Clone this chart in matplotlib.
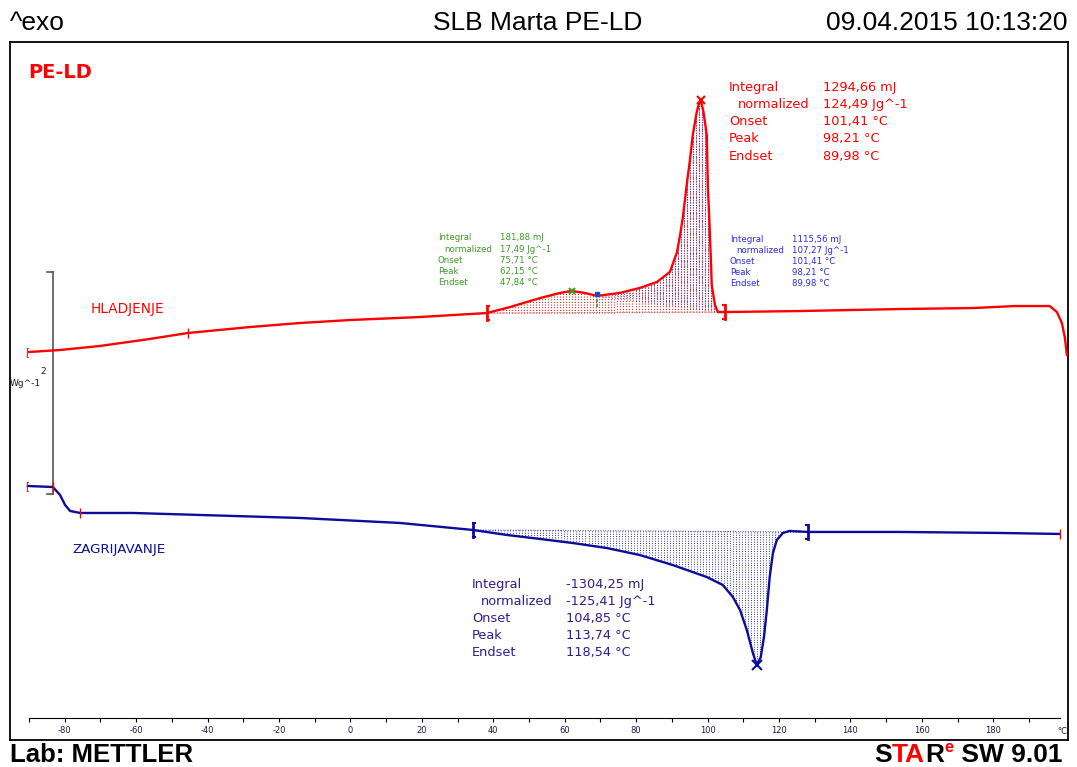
import numpy as np
import matplotlib
matplotlib.use('Agg')
import matplotlib.pyplot as plt

plt.rcParams['axes.unicode_minus'] = False

W, H = 1077, 767

# cooling run (HLADJENJE): temperature [C], heat flow [W/g] relative to start
cool_t = [-89.5, -80.8, -69.7, -55.8, -45.1, -27.7, -13.8, 0.2, 19.7, 38.5,
          45.0, 53.4, 59.0, 62.2, 65.9, 69.3, 75.7, 81.3, 86.1, 89.7,
          91.7, 92.5, 93.3, 94.4, 95.3, 96.1, 97.2, 97.8, 98.3, 99.1,
          100.0, 100.3, 100.9, 101.4, 102.3, 103.1, 105.0, 126.0, 154.0, 174.4,
          186.1, 195.9, 197.9, 199.3, 200.1, 200.7]
cool_hf = [0.0, 0.018, 0.054, 0.117, 0.171, 0.225, 0.261, 0.288, 0.315, 0.351,
           0.405, 0.486, 0.532, 0.550, 0.532, 0.505, 0.532, 0.577, 0.631, 0.721,
           0.901, 1.045, 1.207, 1.505, 1.730, 1.955, 2.162, 2.235, 2.270, 2.162,
           1.955, 1.505, 1.054, 0.604, 0.423, 0.360, 0.360, 0.369, 0.387, 0.396,
           0.414, 0.414, 0.360, 0.261, 0.135, -0.027]

# heating run (ZAGRIJAVANJE)
heat_t = [-89.8, -82.8, -80.8, -79.4, -78.0, -75.2, -60.4, -41.7, -13.7, 14.2,
          34.6, 44.1, 53.4, 62.6, 72.1, 81.3, 90.5, 100.0, 104.5, 107.3,
          109.3, 111.2, 112.9, 114.0, 115.1, 116.0, 116.8, 117.6, 118.5, 119.6,
          121.3, 123.2, 128.3, 154.0, 181.9, 198.7]
heat_hf = [0.0, -0.009, -0.081, -0.171, -0.225, -0.243, -0.243, -0.261, -0.288, -0.333,
           -0.396, -0.441, -0.477, -0.514, -0.559, -0.622, -0.712, -0.820, -0.892, -1.000,
           -1.117, -1.297, -1.505, -1.613, -1.541, -1.360, -1.117, -0.820, -0.604, -0.486,
           -0.423, -0.405, -0.414, -0.414, -0.423, -0.432]

cool_lim = [38.5, 105.0]
cool_split = 69.3
heat_lim = [34.6, 128.3]

ev_labels = ['Integral', 'normalized', 'Onset', 'Peak', 'Endset']
cool_vals = ['1294,66 mJ', '124,49 Jg^-1', '101,41 °C', '98,21 °C', '89,98 °C']
part1_vals = ['181,88 mJ', '17,49 Jg^-1', '75,71 °C', '62,15 °C', '47,84 °C']
part2_vals = ['1115,56 mJ', '107,27 Jg^-1', '101,41 °C', '98,21 °C', '89,98 °C']
heat_vals = ['-1304,25 mJ', '-125,41 Jg^-1', '104,85 °C', '113,74 °C', '118,54 °C']

RED = '#ff0000'
NAVY = '#0c0c9c'
GREEN = '#3c9a28'
PURPLE = '#2e1c92'
BLUE2 = '#2a2ae0'

PXU = 111.0            # pixels per W/g
cool_off = (740 - 352) / PXU
heat_off = (740 - 486) / PXU

cool_t = np.array(cool_t)
cool_y = np.array(cool_hf) + cool_off
heat_t = np.array(heat_t)
heat_y = np.array(heat_hf) + heat_off


def fx(x):
    return x / W


def fy(y):
    return 1 - y / H


fig = plt.figure(figsize=(W / 100, H / 100), dpi=100)

ax = fig.add_axes([fx(10), fy(740), 1058 / W, 698 / H])
ax.set_xlim(-94.8, 201.0)
ax.set_ylim(0, 698 / PXU)
ax.set_xticks([])
ax.set_yticks([])
for s in ax.spines.values():
    s.set_linewidth(1.3)

# temperature axis
ax2 = fig.add_axes([fx(29), fy(718), (1060 - 29) / W, 0.0005])
ax2.set_xlim(-89.5, 198.7)
ax2.patch.set_visible(False)
for k in ['top', 'left', 'right']:
    ax2.spines[k].set_visible(False)
ax2.spines['bottom'].set_linewidth(0.8)
ax2.set_yticks([])
ax2.set_xticks(np.arange(-80, 181, 20))
ax2.set_xticks(np.arange(-90, 200, 10), minor=True)
ax2.tick_params(axis='x', which='both', length=3, width=0.8, pad=3,
                labelsize=6, labelcolor='#1a1a40')
fig.text(fx(1062), fy(731), '°C', fontsize=6, color='#1a1a40', ha='center', va='center')


def shade(t, y, t1, t2, color, start, step=0.84, lw=0.7):
    xs = np.arange(t1 + start, t2, step)
    top = np.interp(xs, t, y)
    b1, b2 = np.interp([t1, t2], t, y)
    base = np.interp(xs, [t1, t2], [b1, b2])
    ax.vlines(xs, base, top, colors=color, linewidth=lw,
              linestyles=(0, (0.8, 1.6)), zorder=1)


# integral shading
shade(cool_t, cool_y, cool_lim[0], cool_lim[1], RED, 0.42, lw=0.8)
shade(cool_t, cool_y, cool_split, cool_lim[1], '#2020d0', 0.0)
shade(heat_t, heat_y, heat_lim[0], heat_lim[1], NAVY, 0.42)

# baselines
for t, y, lim, c in [(cool_t, cool_y, cool_lim, RED), (heat_t, heat_y, heat_lim, NAVY)]:
    b = np.interp(lim, t, y)
    ax.plot(lim, b, color=c, lw=0.6, ls=(0, (1, 2)), zorder=1)

ax.plot(cool_t, cool_y, color=RED, lw=1.7, zorder=3)
ax.plot(heat_t, heat_y, color=NAVY, lw=1.7, zorder=3)

# integration limit brackets
for t, y, lim, c in [(cool_t, cool_y, cool_lim, RED), (heat_t, heat_y, heat_lim, NAVY)]:
    for i, tl in enumerate(lim):
        yl = np.interp(tl, t, y)
        d = 0.06
        ax.plot([tl, tl], [yl - d, yl + d], color=c, lw=2.0, zorder=4)
        sgn = 1 if i == 0 else -1
        ax.plot([tl, tl + sgn * 0.5], [yl + d, yl + d], color=c, lw=1.5, zorder=4)
        ax.plot([tl, tl + sgn * 0.5], [yl - d, yl - d], color=c, lw=1.5, zorder=4)

# peak markers
ip = int(np.argmax(cool_y))
ax.plot(cool_t[ip], cool_y[ip], marker='x', color=RED, ms=6, mew=1.5, zorder=5)
ih = int(np.argmin(heat_y))
ax.plot(heat_t[ih], heat_y[ih], marker='x', color=NAVY, ms=7, mew=1.5, zorder=5)
gp = 62.2
ax.plot(gp, np.interp(gp, cool_t, cool_y), marker='x', color=GREEN, ms=5, mew=1.5, zorder=5)
ym = np.interp(cool_split, cool_t, cool_y)
ax.plot([cool_split, cool_split], [ym - 0.1, ym], color=GREEN, lw=1.2,
        ls=(0, (2, 1)), zorder=5)
ax.plot(cool_split, ym + 0.02, marker='s', color='#1a4ad0', ms=3, zorder=5)

# small step marks
for t, y, tm in [(cool_t, cool_y, -45.1), (heat_t, heat_y, -75.2),
                 (heat_t, heat_y, -82.8), (heat_t, heat_y, 198.7)]:
    ax.plot(tm, np.interp(tm, t, y), marker='|', color=RED, ms=7, mew=1.0, zorder=4)
for y0 in [cool_y[0], heat_y[0]]:
    ax.text(-89.4, y0, '[', color=RED, fontsize=7, ha='right', va='center')

# scale bar
sb_t = -82.8
sb_top = (740 - 272) / PXU
ax.plot([sb_t, sb_t], [sb_top - 2, sb_top], color='#555555', lw=1.2, zorder=2)
ax.plot([sb_t - 1.6, sb_t], [sb_top, sb_top], color='#555555', lw=1.2)
ax.plot([sb_t - 1.6, sb_t], [sb_top - 2, sb_top - 2], color='#555555', lw=1.2)
fig.text(fx(43), fy(371), '2', fontsize=6.5, color='#222222', ha='center', va='center')
fig.text(fx(25), fy(383), 'Wg^-1', fontsize=6.5, color='#222222', ha='center', va='center')

# curve labels
fig.text(fx(91), fy(309), 'HLADJENJE', fontsize=9.8, color=RED, va='center')
fig.text(fx(72), fy(550), 'ZAGRIJAVANJE', fontsize=9.6, color=NAVY, va='center')
fig.text(fx(28), fy(72), 'PE-LD', fontsize=14, color=RED, fontweight='bold',
         va='center', family='DejaVu Sans')


def block(xl, xn, xv, rows, vals, fs, lc, vc):
    half = fs * 0.5      # half cap height in pixels (approx.)
    for i, (lab, val) in enumerate(zip(ev_labels, vals)):
        yb = fy(rows[i] + half)
        fig.text(fx(xn if i == 1 else xl), yb, lab, fontsize=fs,
                 color=lc, va='baseline')
        fig.text(fx(xv), yb, val, fontsize=fs, color=vc, va='baseline')


block(729, 738, 823, [86, 103, 120, 137, 155], cool_vals, 9.3, RED, RED)
block(438, 444, 500, [237, 249, 260, 271, 282], part1_vals, 6.2, GREEN, GREEN)
block(730, 736, 792, [239, 250, 261, 272, 283], part2_vals, 6.2, BLUE2, BLUE2)
block(472, 481, 566, [583, 600, 617, 634, 651], heat_vals, 9.3, PURPLE, PURPLE)

# header and footer
hf = dict(family='Liberation Sans', fontsize=19, color='black', va='center')
fig.text(fx(10), fy(23), '^exo', ha='left', **hf)
fig.text(fx(538), fy(23), 'SLB Marta PE-LD', ha='center', **hf)
fig.text(fx(1068), fy(23), '09.04.2015 10:13:20', ha='right', **hf)
ff = dict(family='Liberation Sans', fontsize=18.5, fontweight='bold', va='center')
fig.text(fx(10), fy(755), 'Lab: METTLER', ha='left', color='black', **ff)

# "STAR^e SW 9.01" built from right to left
renderer = fig.canvas.get_renderer()
pieces = [('S', 'black', 0, 19), ('TA', RED, 0, 19), ('R', 'black', 0, 19),
          ('e', RED, -7, 12), (' SW 9.01', 'black', 0, 19)]
xr = 1062
for txt, c, dy, fs in reversed(pieces):
    t = fig.text(fx(xr), fy(755 + dy), txt, ha='right', color=c,
                 family='Liberation Sans', fontsize=fs, fontweight='bold', va='center')
    bb = t.get_window_extent(renderer)
    xr -= bb.width

fig.savefig('out.png', dpi=100)
